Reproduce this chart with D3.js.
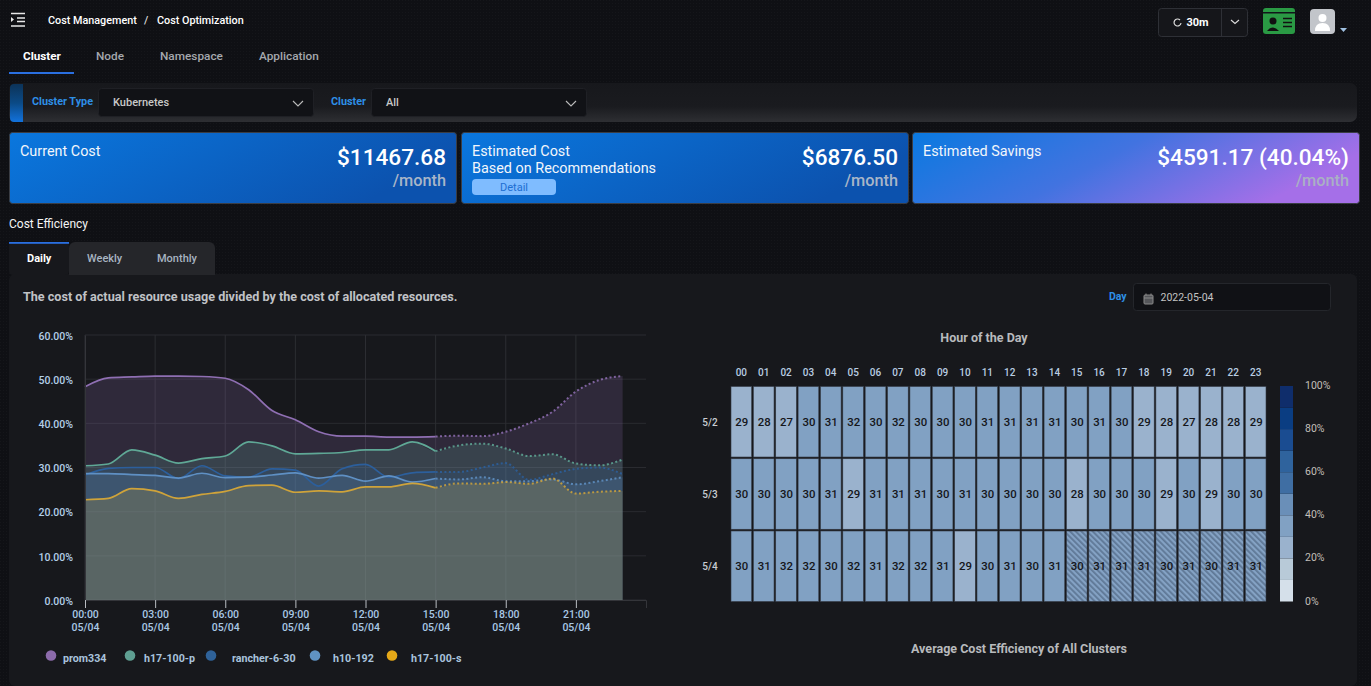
<!DOCTYPE html>
<html><head><meta charset="utf-8">
<script src="https://cdn.jsdelivr.net/npm/d3@7"></script>
<style>
html,body{margin:0;padding:0;background:#0f1014;overflow:hidden}
svg{display:block;font-family:Roboto,"Noto Sans",sans-serif}
</style></head><body><div id="c"></div>
<script>
const hours=[0,1,2,3,4,5,6,7,8,9,10,11,12,13,14,15,16,17,18,19,20,21,22,23];
const seriesNames=["prom334","h17-100-p","rancher-6-30","h10-192","h17-100-s"];
const seriesColors=["#8f6fb3","#5fa896","#2c5f9c","#5f90c4","#cfa33a"];
const legendColors=["#8c6bab","#5f9f92","#2f6299","#5f92c2","#e5a818"];
const prom334=[48.3,50.3,50.5,50.7,50.7,50.6,50.2,47.6,42.9,40.8,38.1,37.1,37.1,36.9,36.9,37.0,37.2,37.1,38.1,40.0,42.6,47.2,49.8,50.7];
const h17p=[30.4,30.8,34.0,32.8,31.0,32.0,32.6,35.8,34.9,33.1,33.2,33.4,34.0,34.0,35.8,33.7,35.0,35.4,34.3,32.6,33.0,30.9,30.5,31.8];
const rancher=[28.3,29.8,30.0,30.0,27.5,30.4,28.1,27.8,29.7,29.4,25.8,29.7,30.7,27.8,28.8,29.0,29.0,30.0,31.0,27.2,28.5,29.7,30.0,28.5];
const h10=[28.6,28.6,28.4,28.2,27.6,28.7,27.7,27.8,28.3,28.8,27.6,28.2,26.9,28.1,26.7,27.5,27.3,27.8,26.9,26.9,27.3,26.2,26.9,27.8];
const h17s=[22.7,23.0,25.2,24.7,23.0,23.9,24.6,25.9,26.0,24.4,24.7,24.5,25.6,25.6,26.4,25.4,26.4,26.3,26.7,26.3,27.5,24.1,24.5,24.7];
const seriesValues=[prom334,h17p,rancher,h10,h17s];
const xTicks=[0,3,6,9,12,15,18,21];
const yTicks=[0,10,20,30,40,50,60];
const forecastStart=15;
const heatDays=["5/2","5/3","5/4"];
const heatHours=["00","01","02","03","04","05","06","07","08","09","10","11","12","13","14","15","16","17","18","19","20","21","22","23"];
const day52=[29,28,27,30,31,32,30,32,30,30,30,31,31,31,31,30,31,30,29,28,27,28,28,29];
const day53=[30,30,30,30,31,29,31,31,31,30,31,30,30,30,30,28,30,30,30,29,30,29,30,30];
const day54=[30,31,32,32,30,32,31,32,32,31,29,30,31,30,31,30,31,31,31,30,31,30,31,31];
const heatValues=[day52,day53,day54];
const bandEdges=[10,20,30,40,50,60,70,80,90];
const bandColors=["#d5e0ea","#b8cad8","#9ab2cd","#81a1c3","#6a8fb8","#3f6ea3","#2f639d","#1a4c91","#0a3d82","#0f2d6b"];
const scaleTicks=[0,20,40,60,80,100];

const svg=d3.select("#c").append("svg").attr("width",1371).attr("height",686);
const defs=svg.append("defs");
function lg(id,x2,y2,stops){const g=defs.append("linearGradient").attr("id",id).attr("x1",0).attr("y1",0).attr("x2",x2).attr("y2",y2);
 stops.forEach(s=>g.append("stop").attr("offset",s[0]).attr("stop-color",s[1]));}
lg("cardA",1,.3,[[0,"#0a77de"],[1,"#0c52ae"]]);
lg("cardC",1,.3,[[0,"#0a79e0"],[.5,"#4273e0"],[1,"#a56fe8"]]);
lg("bar",0,1,[[0,"#17181c"],[.6,"#1a1b1f"],[1,"#2e2f33"]]);
lg("accent",0,1,[[0,"#0c3358"],[.5,"#0b4a86"],[1,"#1272dc"]]);
const dot=defs.append("pattern").attr("id","dots").attr("width",3).attr("height",3).attr("patternUnits","userSpaceOnUse");
dot.append("rect").attr("width",3).attr("height",3).attr("fill","#0f1014");
dot.append("rect").attr("width",1).attr("height",1).attr("fill","#15161a");
const hatch=defs.append("pattern").attr("id","hatch").attr("width",4).attr("height",4).attr("patternUnits","userSpaceOnUse").attr("patternTransform","rotate(-45)");
hatch.append("rect").attr("width",4).attr("height",4).attr("fill","#84a2c4");
hatch.append("rect").attr("width",1.800).attr("height",4).attr("fill","#5f7896");

svg.append("rect").attr("width",1371).attr("height",686).attr("fill","url(#dots)");
function R(x,y,w,h,f,r,s){return svg.append("rect").attr("x",x).attr("y",y).attr("width",w).attr("height",h).attr("fill",f).attr("rx",r||0).attr("stroke",s||"none");}
function T(x,y,t,size,col,wt,anc){return svg.append("text").attr("x",x).attr("y",y).text(t).attr("font-size",size).attr("fill",col).attr("font-weight",wt||400).attr("text-anchor",anc||"start");}
function P(d,stroke,w,fill){return svg.append("path").attr("d",d).attr("stroke",stroke||"none").attr("stroke-width",w||1).attr("fill",fill||"none");}

// header
P("M11 13.5H25M17 18H25M17 21.5H25M11 26H25","#e8e8e8",1.4);
P("M11 17l3 2.5l-3 2.5z","none",1,"#e8e8e8");
T(48,24,"Cost Management",10.800,"#fff",500);
T(144,24,"/",11,"#ddd",500);
T(157,24,"Cost Optimization",10.800,"#fff",500);
R(1158.5,8.5,89,28,"#15161a",3,"#2e3036");
svg.append("line").attr("x1",1221.5).attr("x2",1221.5).attr("y1",9).attr("y2",36).attr("stroke","#2e3036");
P("M1180 20a3.5 3.5 0 1 0 1 3","#ddd",1.2);
T(1186.5,26,"30m",11,"#fff",700);
P("M1231 20l4 3.5l4-3.5","#ddd",1.1);
R(1263,8,32,26,"#2a9a44",3);
R(1263,12,32,1.5,"#11151a");
svg.append("circle").attr("cx",1273).attr("cy",21).attr("r",3.5).attr("fill","#111");
P("M1267 31q6-7 12 0z","none",1,"#111");
P("M1283 18.5h9M1283 22.5h9M1283 26.5h9","#111",1.4);
R(1310,9,25,25,"#c2c5ca",4);
svg.append("circle").attr("cx",1322.5).attr("cy",18).attr("r",4).attr("fill","#fff");
P("M1315 31q0-8 7.5-8t7.500 8z","none",1,"#fff");
P("M1340 28h7l-3.500 4z","none",1,"#9fc0e0");

// tabs
T(23,60,"Cluster",11.700,"#fff",700);
T(96,60,"Node",11.800,"#a5a8ad",500);
T(160,60,"Namespace",11.800,"#a5a8ad",500);
T(259,60,"Application",11.800,"#a5a8ad",500);
R(9,72,65,2,"#2a6fe0");

// filter bar
R(9,83,1348,39,"url(#bar)",7);
R(10,84,13,38,"url(#accent)",4);
R(16,84,7,38,"url(#accent)");
T(32,105,"Cluster Type",10.800,"#2e8fe6",700);
R(98.500,88.500,215,28,"#111216",3,"#1f2025");
T(113,106,"Kubernetes",11,"#c8c8c8",500);
P("M293 101l5 5l5-5","#bbb",1.1);
T(331,105,"Cluster",10.800,"#2e8fe6",700);
R(371.500,88.500,215,28,"#111216",3,"#1f2025");
T(386,106,"All",11,"#c8c8c8",500);
P("M566 101l5 5l5-5","#bbb",1.1);

// cards
R(9.500,132.500,447,71,"url(#cardA)",3,"#3a3d44");
R(461.500,132.500,447,71,"url(#cardA)",3,"#3a3d44");
R(912.500,132.500,447,71,"url(#cardC)",3,"#3a3d44");
T(20,156,"Current Cost",14.400,"#f2f6fb",400);
T(446,165,"$11467.68",22.600,"#fff",500,"end");
T(446,186,"/month",16.300,"#a9b6c8",500,"end");
T(472,156,"Estimated Cost",14.400,"#f2f6fb",400);
T(472,173,"Based on Recommendations",14.400,"#f2f6fb",400);
R(472,179,84,16,"#7fbcff",4);
T(514,191,"Detail",11,"#1d6ed2",400,"middle");
T(898,165,"$6876.50",22.600,"#fff",500,"end");
T(898,186,"/month",16.300,"#a9b6c8",500,"end");
T(923,156,"Estimated Savings",14.400,"#f2f6fb",400);
T(1349,165,"$4591.17 (40.04%)",22.600,"#fff",500,"end");
T(1349,186,"/month",16.300,"#aab0c4",500,"end");

T(9,228,"Cost Efficiency",12,"#f4f4f4",400);
R(9,274,1348,412,"#17181c",6);
R(69,242,146,33,"#25262a",6);
R(69,262,146,13,"#25262a");
R(9,242,60,33,"#17181c",4);
R(9,242,60,1.800,"#2a6fe0");
T(27,262,"Daily",11,"#fff",700);
T(87,262,"Weekly",11,"#a8b4c2",500);
T(157,262,"Monthly",11,"#a8b4c2",500);
T(23,301,"The cost of actual resource usage divided by the cost of allocated resources.",12.600,"#c0c2c6",700);
T(1109,300,"Day",10.500,"#2e8fe6",700);
R(1133.500,283.500,197,27,"#101115",3,"#24262b");
T(1160.500,301,"2022-05-04",10.500,"#c4c4c4",400);
R(1144,295,9,9,"#55565a",1,"#8a8a8a");
P("M1144 298h9M1146 293.500v2M1151 293.500v2","#8a8a8a",1);

// line chart
const x=d3.scaleLinear().domain([0,24]).range([85,646]);
const y=d3.scaleLinear().domain([0,60]).range([600,335]);
const grid=svg.append("g");
grid.selectAll(".h").data(yTicks).join("line").attr("x1",x(0)).attr("x2",x(24)).attr("y1",d=>y(d)).attr("y2",d=>y(d)).attr("stroke","#2a2b30");
grid.selectAll(".v").data(xTicks).join("line").attr("x1",d=>x(d)).attr("x2",d=>x(d)).attr("y1",y(60)).attr("y2",y(0)).attr("stroke","#2c2d32");

const area=d3.area().x((d,i)=>x(hours[i])).y0(y(0)).y1(d=>y(d)).curve(d3.curveMonotoneX);
const lineDash=d3.line().x(d=>x(d[0])).y(d=>y(d[1])).curve(d3.curveMonotoneX);
seriesValues.forEach((v,k)=>svg.append("path").attr("d",area(v)).attr("fill",seriesColors[k]).attr("fill-opacity",.2));
seriesValues.forEach((v,k)=>{
  const pairs=v.map((d,i)=>[hours[i],d]);
  svg.append("path").attr("d",lineDash(pairs.filter(p=>p[0]<=forecastStart))).attr("fill","none").attr("stroke",seriesColors[k]).attr("stroke-width",1.700);
  svg.append("path").attr("d",lineDash(pairs.filter(p=>p[0]>=forecastStart))).attr("fill","none").attr("stroke",seriesColors[k]).attr("stroke-width",2).attr("stroke-dasharray","2 2.400").attr("stroke-opacity",.85);
});
const yAxis=svg.append("g").attr("transform",`translate(${x(0)},0)`).call(d3.axisLeft(y).tickValues(yTicks).tickSize(0).tickPadding(12).tickFormat(d=>d.toFixed(2)+"%"));
yAxis.select(".domain").attr("stroke","#34353a");
yAxis.selectAll("text").attr("font-size",10.500).attr("font-weight",500).attr("fill","#b4cfe8").attr("font-family","Roboto").attr("dy","0.6em").attr("y",-2);
const xAxis=svg.append("g").attr("transform",`translate(0,${y(0)})`).call(d3.axisBottom(x).tickValues(xTicks).tickSize(8).tickPadding(3).tickFormat(d=>""));
xAxis.select(".domain").attr("stroke","#34353a");
xAxis.selectAll("line").attr("stroke","#b9bcc2");
xAxis.selectAll(".tick").each(function(d){
  const t=d3.select(this).select("text").attr("dy",null).attr("font-size",10.500).attr("font-weight",500).attr("fill","#a9c8e6").attr("font-family","Roboto");
  t.append("tspan").attr("x",0).attr("y",18).text(String(d).padStart(2,"0")+":00");
  t.append("tspan").attr("x",0).attr("y",31).text("05/04");
});

// chart legend
const legendCx=[51,130,211,315,392], legendTx=[63,144,232,333,411];
seriesNames.forEach((n,i)=>{
  svg.append("circle").attr("cx",legendCx[i]).attr("cy",655.500).attr("r",5.300).attr("fill",legendColors[i]);
  T(legendTx[i],662,n,10.700,"#a9c3dc",700);
});

// heatmap
const hx=d3.scaleBand().domain(heatHours).range([731,1266]).paddingInner(.075).paddingOuter(0);
const hy=d3.scaleBand().domain(heatDays).range([386.500,601.500]).paddingInner(.024).paddingOuter(0);
const bandScale=d3.scaleThreshold().domain(bandEdges).range(bandColors);
heatDays.forEach((day,r)=>{
  heatHours.forEach((h,c)=>{
    const val=heatValues[r][c];
    const future=day==="5/4"&&+h>=forecastStart;
    svg.append("rect").attr("x",hx(h)).attr("y",hy(day)).attr("width",hx.bandwidth()).attr("height",hy.bandwidth())
      .attr("fill",future?"url(#hatch)":bandScale(val)).attr("stroke","#343a44").attr("stroke-width",.6);
    T(hx(h)+hx.bandwidth()/2+.500,hy(day)+hy.bandwidth()/2+4,val,11.400,"#15161a",500,"middle");
  });
});
heatHours.forEach(h=>T(hx(h)+hx.bandwidth()/2,375.500,h,10,"#b9cde2",500,"middle"));
heatDays.forEach(d=>T(710,hy(d)+hy.bandwidth()/2+4,d,10,"#c9cdd2",500,"middle"));
T(984,342,"Hour of the Day",12.500,"#b8babd",700,"middle");
T(1019,653,"Average Cost Efficiency of All Clusters",12.500,"#b8babd",700,"middle");

// colour scale
const sy=d3.scaleLinear().domain([0,100]).range([601.500,386]);
const edges=[0].concat(bandEdges);
edges.forEach((e,i)=>{
  const top=i<bandEdges.length?bandEdges[i]:100;
  svg.append("rect").attr("x",1280).attr("width",13).attr("y",sy(top)).attr("height",sy(e)-sy(top)).attr("fill",bandColors[i]);
});
scaleTicks.forEach(t=>T(1305,sy(t)+3,t+"%",10.500,"#c2bfb8",400));
</script></body></html>
